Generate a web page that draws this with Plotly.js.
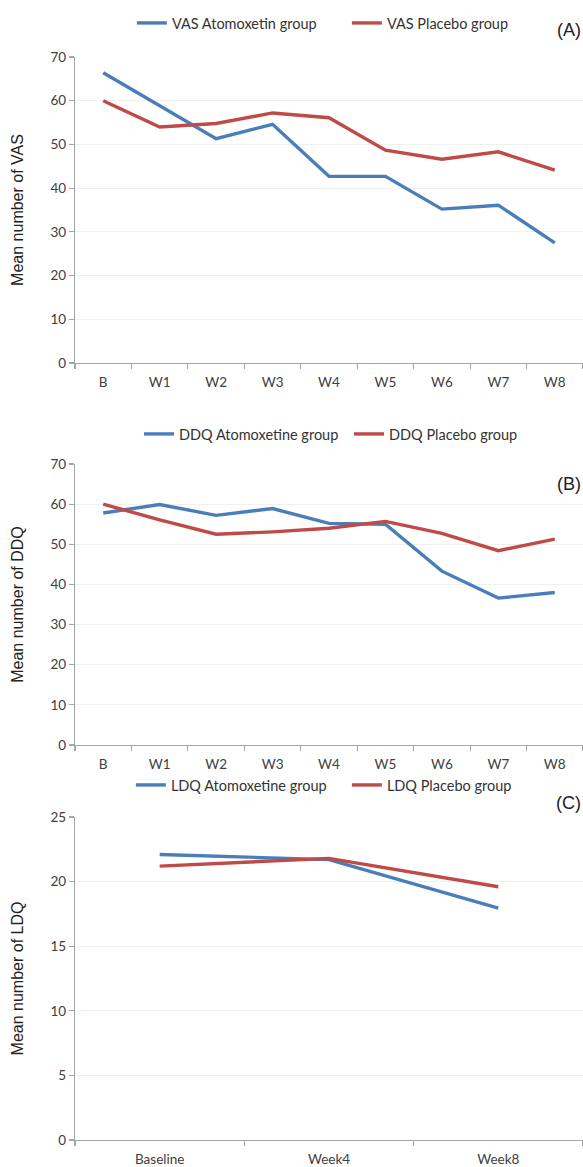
<!DOCTYPE html>
<html>
<head>
<meta charset="utf-8">
<script src="https://cdn.plot.ly/plotly-3.0.1.min.js"></script>
<style>html,body{margin:0;padding:0;background:#fff;}#chart{width:583px;height:1167px;}</style>
</head>
<body>
<div id="chart"></div>
<script>
// Panel A: VAS
const weeksAB = ["B", "W1", "W2", "W3", "W4", "W5", "W6", "W7", "W8"];
const vasAtomoxetin = [66.4, 58.8, 51.3, 54.6, 42.7, 42.7, 35.2, 36.1, 27.5];
const vasPlacebo = [60.0, 54.0, 54.8, 57.2, 56.1, 48.7, 46.6, 48.3, 44.1];
// Panel B: DDQ
const ddqAtomoxetine = [57.8, 59.9, 57.2, 58.9, 55.2, 55.0, 43.3, 36.6, 38.0];
const ddqPlacebo = [60.0, 56.1, 52.5, 53.1, 54.0, 55.7, 52.7, 48.4, 51.3];
// Panel C: LDQ
const weeksC = ["Baseline", "Week4", "Week8"];
const ldqAtomoxetine = [22.1, 21.7, 17.95];
const ldqPlacebo = [21.2, 21.8, 19.6];

const BLUE = "#4A7EBB";
const RED = "#BE4B48";
const tickFont = {family: "Lato, 'Open Sans', sans-serif", size: 13.5, color: "#404040"};
const titleFont = {family: "'Liberation Sans', Arial, sans-serif", size: 16, color: "#222"};
const legFont = {family: "Lato, 'Open Sans', sans-serif", size: 14.5, color: "#333"};

function line(x, y, color, name, xa, ya, leg) {
  return {x: x, y: y, type: "scatter", mode: "lines", name: name,
    line: {color: color, width: 3.4}, xaxis: xa, yaxis: ya, legend: leg, hoverinfo: "skip"};
}

const traces = [
  line(weeksAB, vasAtomoxetin, BLUE, "VAS Atomoxetin group", "x", "y", "legend"),
  line(weeksAB, vasPlacebo, RED, "VAS Placebo group", "x", "y", "legend"),
  line(weeksAB, ddqAtomoxetine, BLUE, "DDQ Atomoxetine group", "x2", "y2", "legend2"),
  line(weeksAB, ddqPlacebo, RED, "DDQ Placebo group", "x2", "y2", "legend2"),
  line(weeksC, ldqAtomoxetine, BLUE, "LDQ Atomoxetine group", "x3", "y3", "legend3"),
  line(weeksC, ldqPlacebo, RED, "LDQ Placebo group", "x3", "y3", "legend3")
];

const H = 1167;
function dom(topPx, botPx) { return [1 - botPx / H, 1 - topPx / H]; }

function xax(anchor, n) {
  return {anchor: anchor, type: "category", range: [-0.5, n - 0.5],
    showgrid: false, zeroline: false, showline: true, linecolor: "#A6A6A6", linewidth: 1.2,
    ticks: "outside", tickson: "boundaries", ticklen: 5, tickcolor: "#A6A6A6", tickwidth: 1.2,
    tickfont: tickFont, ticklabelstandoff: 7, fixedrange: true};
}
function yax(anchor, domain, max, dtick, title) {
  return {anchor: anchor, domain: domain, range: [0, max], dtick: dtick,
    showgrid: true, gridcolor: "#F0F0F0", gridwidth: 1, zeroline: false,
    showline: true, linecolor: "#A6A6A6", linewidth: 1.2,
    ticks: "outside", ticklen: 5, tickcolor: "#A6A6A6", tickwidth: 1.2,
    tickfont: tickFont, title: {text: title, font: titleFont, standoff: 22}, fixedrange: true};
}
function leg(x, y, w) {
  return {orientation: "h", x: x, y: y, xanchor: "left", yanchor: "middle",
    font: legFont, bgcolor: "rgba(0,0,0,0)", entrywidth: w, entrywidthmode: "pixels",
    itemclick: false, itemdoubleclick: false, tracegroupgap: 0};
}

const layout = {
  width: 583, height: 1167,
  margin: {l: 75, r: 0, t: 0, b: 0},
  paper_bgcolor: "#fff", plot_bgcolor: "#fff",
  showlegend: true,
  xaxis: xax("y", 9),
  yaxis: yax("x", dom(57, 363), 70, 10, "Mean number of VAS"),
  xaxis2: xax("y2", 9),
  yaxis2: yax("x2", dom(464, 745), 70, 10, "Mean number of DDQ"),
  xaxis3: xax("y3", 3),
  yaxis3: yax("x3", dom(817, 1140), 25, 5, "Mean number of LDQ"),
  legend: leg(0.112, 1 - 23 / H, 170),
  legend2: leg(0.126, 1 - 434 / H, 165),
  legend3: leg(0.110, 1 - 785 / H, 171),
  annotations: [
    {text: "(A)", xref: "paper", yref: "paper", x: 1, y: 1 - 30 / H, xanchor: "right", yanchor: "middle", showarrow: false, font: {family: "'Liberation Sans', Arial, sans-serif", size: 18, color: "#222"}},
    {text: "(B)", xref: "paper", yref: "paper", x: 1, y: 1 - 484 / H, xanchor: "right", yanchor: "middle", showarrow: false, font: {family: "'Liberation Sans', Arial, sans-serif", size: 18, color: "#222"}},
    {text: "(C)", xref: "paper", yref: "paper", x: 1, y: 1 - 803 / H, xanchor: "right", yanchor: "middle", showarrow: false, font: {family: "'Liberation Sans', Arial, sans-serif", size: 18, color: "#222"}}
  ]
};

Plotly.newPlot("chart", traces, layout, {displayModeBar: false, staticPlot: true});
</script>
</body>
</html>
